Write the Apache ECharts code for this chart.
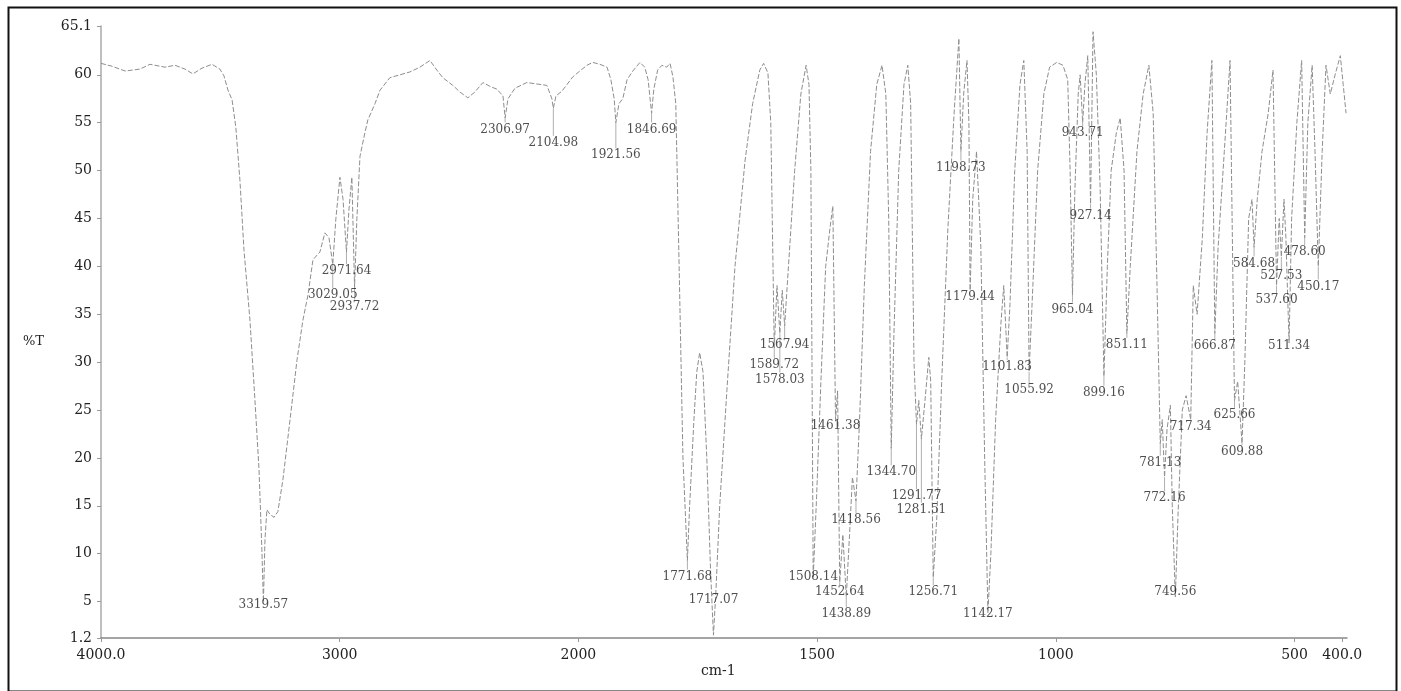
<!DOCTYPE html>
<html>
<head>
<meta charset="utf-8">
<script src="https://cdn.jsdelivr.net/npm/echarts@6/dist/echarts.min.js"></script>
<style>
  html, body { margin: 0; padding: 0; background: #fff; }
  #chart { width: 1401px; height: 691px; }
</style>
</head>
<body>
<div id="chart"></div>
<script>
// IR transmission spectrum (%T vs wavenumber, cm-1)
const wavenumbers = [
  4000, 3954, 3899, 3837, 3795, 3732, 3690, 3648, 3615, 3577, 3535, 3502, 3485, 3468, 3451, 3435,
  3418, 3401, 3376, 3355, 3338, 3326, 3319.57, 3313, 3305, 3292, 3275, 3259, 3238, 3208, 3179, 3154,
  3133, 3112, 3083, 3062, 3045, 3029.05, 3016, 2999, 2986, 2971.64, 2961, 2949, 2937.72, 2928, 2915,
  2894, 2882, 2852, 2831, 2790, 2748, 2706, 2664, 2622, 2593, 2568, 2526, 2496, 2463, 2434, 2400,
  2371, 2341, 2316, 2306.97, 2295, 2266, 2216, 2161, 2132, 2111, 2104.98, 2094, 2069, 2023,
  1997, 1982, 1970, 1955, 1940, 1932, 1925, 1921.56, 1915, 1907, 1898, 1886, 1871, 1861, 1854,
  1846.69, 1842, 1834, 1825, 1815, 1808, 1802, 1796, 1789, 1781, 1771.68, 1767, 1758, 1752, 1746,
  1739, 1731, 1723, 1717.07, 1712, 1704, 1689, 1672, 1651, 1635, 1620, 1612, 1603, 1597, 1589.72,
  1584, 1578.03, 1573, 1567.94, 1560, 1547, 1534, 1523, 1517, 1513, 1508.14, 1501, 1492, 1482, 1473,
  1467, 1461.38, 1457, 1452.64, 1446, 1438.89, 1432, 1426, 1418.56, 1411, 1401, 1388, 1375, 1364,
  1356, 1350, 1344.70, 1339, 1329, 1318, 1310, 1304, 1297, 1291.77, 1287, 1281.51, 1274, 1266, 1262,
  1256.71, 1249, 1239, 1226, 1213, 1203, 1198.73, 1193, 1186, 1182, 1179.44, 1174, 1166, 1157, 1149,
  1142.17, 1136, 1126, 1115, 1109, 1101.83, 1096, 1086, 1075, 1067, 1060, 1055.92, 1048, 1038, 1025,
  1013, 998, 985, 975, 970, 965.04, 960, 953, 949, 943.71, 939, 933, 927.14, 922, 915, 907, 899.16,
  892, 884, 873, 865, 857, 851.11, 844, 830, 817, 805, 796, 788, 781.13, 777, 772.16, 767, 760, 756,
  749.56, 744, 735, 727, 717.34, 712, 704, 693, 683, 673, 666.87, 660, 647, 635, 625.66, 619, 609.88,
  604, 596, 589, 584.68, 578, 568, 555, 545, 537.60, 532, 527.53, 522, 518, 511.34, 506, 495, 485,
  478.60, 472, 463, 457, 450.17, 442, 434, 425, 415, 404, 398, 392
];
const transmittance = [
  61.2, 60.9, 60.4, 60.6, 61.1, 60.8, 61.0, 60.6, 60.1, 60.7, 61.1, 60.6, 59.9, 58.4, 57.4, 54.5,
  49.0, 41.7, 34.4, 26.0, 18.8, 10.4, 5.0, 11.5, 14.6, 14.1, 13.8, 14.4, 17.7, 24.0, 30.2, 34.4,
  37.0, 40.7, 41.5, 43.5, 43.0, 40.2, 45.0, 49.3, 47.0, 41.5, 46.0, 49.3, 37.8, 45.0, 51.5,
  54.0, 55.3, 57.0, 58.4, 59.7, 60.0, 60.3, 60.8, 61.5, 60.5, 59.7, 58.9, 58.2, 57.6, 58.2, 59.2,
  58.8, 58.5, 57.8, 55.5, 57.5, 58.6, 59.2, 59.0, 58.9, 57.5, 56.5, 57.8, 58.3, 59.8,
  60.4, 61.0, 61.3, 61.1, 60.8, 59.5, 57.5, 55.0, 57.0, 57.5, 59.5, 60.4, 61.3, 60.8, 59.5,
  56.0, 58.5, 60.5, 61.0, 60.8, 61.2, 59.8, 57.0, 40.0, 20.0, 9.3, 15.0, 24.0, 29.0, 31.0,
  29.0, 20.0, 8.0, 1.5, 6.0, 15.0, 27.0, 40.0, 51.0, 57.0, 60.5, 61.2, 60.2, 55.0, 31.5,
  38.0, 33.0, 37.5, 33.8, 40.0, 50.0, 58.0, 61.0, 59.0, 50.0, 7.5, 16.0, 28.0, 40.0, 44.0,
  46.3, 24.0, 27.0, 7.0, 12.0, 5.5, 12.0, 18.0, 15.5, 24.0, 38.0, 52.0, 59.0, 61.0,
  58.0, 45.0, 21.0, 33.0, 50.0, 59.0, 61.0, 57.0, 30.0, 23.5, 26.0, 22.0, 26.0, 30.5, 28.0,
  7.5, 14.0, 28.0, 44.0, 56.0, 63.8, 52.0, 58.0, 61.5, 55.0, 37.5, 47.0, 52.0, 42.0, 20.0,
  3.8, 10.0, 24.0, 34.0, 38.0, 30.5, 36.0, 50.0, 59.0, 61.5, 52.0, 29.0, 38.0, 50.0, 58.0,
  60.8, 61.3, 61.0, 59.5, 50.0, 37.0, 48.0, 58.0, 60.0, 55.0, 59.0, 62.0, 46.5, 64.5, 60.0, 48.0, 28.5,
  40.0, 50.0, 54.0, 55.5, 50.0, 33.0, 40.0, 52.0, 58.0, 61.0, 56.0, 38.0, 21.5, 24.0, 18.0, 23.0, 25.5, 15.0,
  5.5, 14.0, 25.0, 26.5, 24.0, 38.0, 35.0, 43.0, 54.0, 61.5, 33.0, 42.0, 52.0, 61.5, 26.0, 28.0, 21.5,
  30.0, 45.0, 47.0, 42.0, 47.0, 52.0, 56.0, 60.5, 38.0, 45.0, 41.0, 47.0, 43.0, 32.0, 45.0, 55.0, 61.5,
  43.0, 55.0, 61.0, 52.0, 40.0, 52.0, 61.0, 58.0, 60.0, 62.0, 59.0, 56.0
];

// Annotated band positions and the %T level at which each label sits
const peakWavenumbers = [
  3319.57, 3029.05, 2971.64, 2937.72, 2306.97, 2104.98, 1921.56, 1846.69, 1771.68, 1717.07,
  1589.72, 1578.03, 1567.94, 1508.14, 1461.38, 1452.64, 1438.89, 1418.56, 1344.70, 1291.77,
  1281.51, 1256.71, 1198.73, 1179.44, 1142.17, 1101.83, 1055.92, 965.04, 943.71, 927.14,
  899.16, 851.11, 781.13, 772.16, 749.56, 717.34, 666.87, 625.66, 609.88, 584.68,
  537.60, 527.53, 511.34, 478.60, 450.17
];
const peakLabelT = [
  4.7, 37.0, 39.5, 35.8, 54.3, 52.9, 51.6, 54.3, 7.6, 5.2,
  29.7, 28.2, 31.8, 7.6, 23.3, 6.0, 3.7, 13.5, 18.5, 16.0,
  14.6, 6.0, 50.3, 36.8, 3.7, 29.5, 27.1, 35.5, 53.9, 45.3,
  26.8, 31.8, 19.5, 15.8, 6.0, 23.2, 31.7, 24.5, 20.6, 40.3,
  36.5, 39.0, 31.7, 41.5, 37.9
];

const xTickValues = [4000, 3000, 2000, 1500, 1000, 500, 400];
const xTickLabels = ['4000.0', '3000', '2000', '1500', '1000', '500', '400.0'];
const yTickValues = [1.2, 5, 10, 15, 20, 25, 30, 35, 40, 45, 50, 55, 60, 65.1];
const yTickLabels = ['1.2', '5', '10', '15', '20', '25', '30', '35', '40', '45', '50', '55', '60', '65.1'];

// The abscissa is compressed 2:1 above 2000 cm-1, as on the spectrometer chart paper.
function toAxis(w) {
  return w >= 2000 ? (4000 - w) / 2 : 1000 + (2000 - w);
}

const spectrum = wavenumbers.map((w, i) => [toAxis(w), transmittance[i]]);

const labelData = peakWavenumbers.map((w, i) => [toAxis(w), peakLabelT[i], w.toFixed(2)]);
const leaderData = peakWavenumbers.map((w, i) => {
  const k = wavenumbers.indexOf(w);
  return [toAxis(w), transmittance[k], peakLabelT[i]];
});

const xAxisTicks = xTickValues.map(toAxis);

const SERIF = '"DejaVu Serif", "Liberation Serif", serif';
const TEXT = '#222';

const chart = echarts.init(document.getElementById('chart'), null, { renderer: 'canvas' });
chart.setOption({
  animation: false,
  backgroundColor: '#fff',
  grid: { left: 101, right: 54, top: 26, bottom: 53, containLabel: false },
  xAxis: {
    type: 'value',
    min: 0,
    max: toAxis(390),
    axisLine: { show: true, lineStyle: { color: '#888', width: 1.5 } },
    axisTick: { show: true, length: 4, lineStyle: { color: '#999' }, customValues: xAxisTicks },
    axisLabel: {
      customValues: xAxisTicks,
      margin: 10,
      color: TEXT,
      fontFamily: SERIF,
      fontSize: 14,
      formatter: v => {
        const i = xAxisTicks.findIndex(t => Math.abs(t - v) < 1e-6);
        return i >= 0 ? xTickLabels[i] : '';
      }
    },
    splitLine: { show: false }
  },
  yAxis: {
    type: 'value',
    min: 1.2,
    max: 65.1,
    axisLine: { show: true, lineStyle: { color: '#aaa', width: 1.5 } },
    axisTick: { show: true, length: 4, lineStyle: { color: '#999' }, customValues: yTickValues },
    axisLabel: {
      customValues: yTickValues,
      margin: 9,
      color: TEXT,
      fontFamily: SERIF,
      fontSize: 14,
      formatter: v => {
        const i = yTickValues.findIndex(t => Math.abs(t - v) < 1e-6);
        return i >= 0 ? yTickLabels[i] : '';
      }
    },
    splitLine: { show: false }
  },
  graphic: [
    { type: 'rect', left: 6, top: 5, shape: { width: 1388, height: 684 },
      style: { fill: 'none', stroke: '#111', lineWidth: 2 }, silent: true },
    { type: 'text', left: 23, top: 335,
      style: { text: '%T', fill: TEXT, font: '13px ' + SERIF } },
    { type: 'text', left: 701, top: 664,
      style: { text: 'cm-1', fill: TEXT, font: '14px ' + SERIF } }
  ],
  series: [
    {
      name: 'spectrum',
      type: 'line',
      data: spectrum,
      showSymbol: false,
      smooth: false,
      lineStyle: { color: '#8e8e8e', width: 1, type: [5, 2] },
      silent: true,
      z: 3
    },
    {
      name: 'leaders',
      type: 'custom',
      data: leaderData,
      silent: true,
      renderItem: (params, api) => {
        const p0 = api.coord([api.value(0), api.value(1)]);
        const p1 = api.coord([api.value(0), api.value(2)]);
        const yEnd = p1[1] - 7;
        if (yEnd <= p0[1]) return null;
        return {
          type: 'line',
          shape: { x1: p0[0], y1: p0[1], x2: p1[0], y2: yEnd },
          style: { stroke: '#9a9a9a', lineWidth: 0.8 }
        };
      },
      z: 2
    },
    {
      name: 'labels',
      type: 'scatter',
      data: labelData,
      symbolSize: 1,
      itemStyle: { color: 'rgba(0,0,0,0)' },
      silent: true,
      label: {
        show: true,
        position: 'inside',
        formatter: p => p.value[2],
        color: TEXT,
        fontFamily: SERIF,
        fontSize: 12
      },
      labelLayout: { hideOverlap: false },
      z: 4
    }
  ]
});
</script>
</body>
</html>
